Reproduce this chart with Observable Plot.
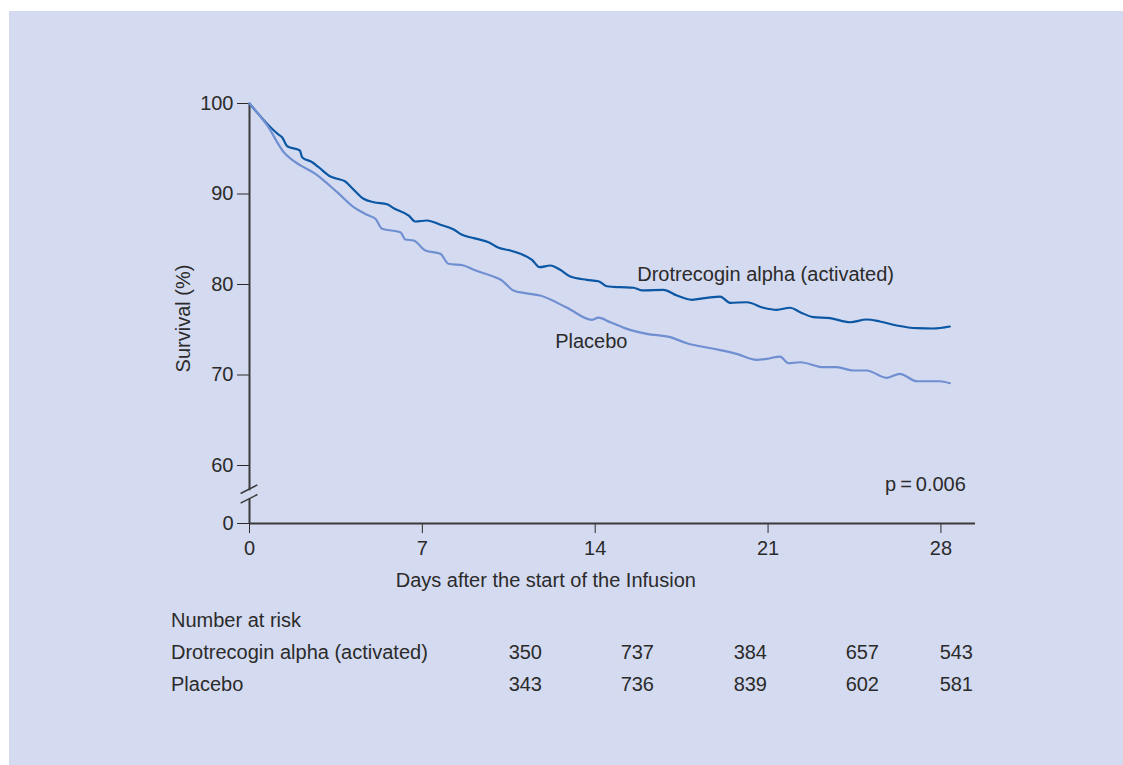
<!DOCTYPE html>
<html><head><meta charset="utf-8">
<script src="https://cdn.jsdelivr.net/npm/d3@7"></script>
<script src="https://cdn.jsdelivr.net/npm/@observablehq/plot@0.6"></script>
<style>
html,body{margin:0;padding:0;background:#fff;width:1123px;height:765px;overflow:hidden;font-family:"Liberation Sans",Arial,Helvetica,sans-serif;}
#panel{position:absolute;left:9px;top:11px;width:1114px;height:754px;background:#d4daf0;}
#chart{position:absolute;left:0;top:0;}
#risk{position:absolute;left:171px;top:604px;border-collapse:collapse;table-layout:fixed;font-size:20px;color:#2b2b2b;}
#risk td{padding:0;height:32px;line-height:32px;white-space:nowrap;}
#risk td.n{text-align:right;}
</style></head><body>
<div id="panel"></div>
<div id="chart"></div>
<table id="risk"></table>
<script>
// ---- data ----
const drotDays = [0,1.19,1.32,1.53,2.04,2.13,2.54,2.80,3.28,3.55,3.88,4.16,4.62,5.03,5.57,5.84,6.45,6.72,7.19,7.73,8.27,8.61,9.08,9.68,10.09,10.56,10.97,11.44,11.75,12.18,12.58,12.99,13.66,14.13,14.47,15.01,15.55,15.89,16.76,17.31,17.91,18.52,19.06,19.46,20.14,20.81,21.35,21.89,22.30,22.83,23.51,24.32,24.99,25.53,26.21,27.02,27.69,28.36];
const drotSurv = [100,96.54,96.28,95.28,94.81,94.07,93.51,92.96,91.93,91.68,91.38,90.64,89.47,89.09,88.87,88.43,87.62,86.96,87.07,86.60,86.08,85.49,85.12,84.67,84.05,83.76,83.39,82.73,81.91,82.10,81.62,80.88,80.52,80.36,79.81,79.70,79.64,79.34,79.41,78.78,78.31,78.53,78.67,77.98,78.04,77.43,77.20,77.43,76.94,76.39,76.28,75.83,76.13,75.91,75.47,75.17,75.14,75.36];
const placDays = [0,0.72,1.39,1.86,2.67,3.55,4.22,4.76,5.10,5.37,6.11,6.31,6.65,7.12,7.73,8.06,8.67,9.08,9.95,10.16,10.69,11.17,11.77,12.86,13.87,14.13,14.61,15.28,16.09,17.04,17.71,18.79,19.73,20.54,20.95,21.49,21.82,22.30,23.24,23.78,24.45,24.99,25.80,26.34,27.02,27.96,28.36];
const placSurv = [100,97.57,94.62,93.51,92.23,90.20,88.54,87.70,87.26,86.15,85.78,84.97,84.86,83.76,83.39,82.29,82.10,81.62,80.81,80.55,79.34,79.04,78.78,77.43,76.10,76.33,75.83,75.10,74.55,74.18,73.51,72.90,72.34,71.68,71.79,72.04,71.30,71.41,70.86,70.86,70.50,70.50,69.69,70.13,69.31,69.31,69.09];
const xTicks = [0,7,14,21,28];
const yTicks = [100,90,80,70,60,0];
const seriesNames = ["Drotrecogin alpha (activated)","Placebo"];
const seriesColors = ["#0b57a4","#6f8fd1"];
const riskDrot = [350,737,384,657,543];
const riskPlac = [343,736,839,602,581];
const seriesLabels = [
  {text:"Drotrecogin alpha (activated)", day:15.70, value:81.1},
  {text:"Placebo", day:12.38, value:73.7}
];
const pLabel = [{text:"p\u2009=\u20090.006", day:29.01, value:40.3}];
// axis break (in data units on the y-axis between 0 and 60)
const breakGap = [25, 34];
const breakSlashes = [{x1:-0.36,y1:31,x2:0.32,y2:40},{x1:-0.36,y1:21,x2:0.32,y2:30}];

const rows = [];
drotDays.forEach((d,i)=>rows.push({series:seriesNames[0], day:d, surv:drotSurv[i]}));
placDays.forEach((d,i)=>rows.push({series:seriesNames[1], day:d, surv:placSurv[i]}));

const ink = "#2b2b2b";
const chart = Plot.plot({
  width:1123, height:600,
  marginLeft:249, marginRight:148, marginTop:103, marginBottom:77,
  style:{background:"transparent", fontSize:"20px", fontFamily:'"Liberation Sans", Arial, Helvetica, sans-serif', color:ink, overflow:"visible"},
  x:{domain:[0,29.4], ticks:xTicks, tickSize:10, tickPadding:7, label:null},
  y:{type:"linear", domain:[0,60,100], range:[523,465,103], ticks:yTicks, tickSize:12, tickPadding:4, label:null},
  color:{domain:seriesNames, range:seriesColors},
  marks:[
    Plot.ruleY([0], {stroke:"#3a3a3a", strokeWidth:2}),
    Plot.ruleX([0], {y1:breakGap[1], y2:100, stroke:"#3a3a3a", strokeWidth:2}),
    Plot.ruleX([0], {y1:0, y2:breakGap[0], stroke:"#3a3a3a", strokeWidth:2}),
    Plot.link(breakSlashes, {x1:"x1", y1:"y1", x2:"x2", y2:"y2", stroke:"#3a3a3a", strokeWidth:1.5}),
    Plot.line(rows, {x:"day", y:"surv", z:"series", stroke:"series", strokeWidth:2.2, curve:"monotone-x"}),
    Plot.text(seriesLabels, {x:"day", y:"value", text:"text", textAnchor:"start", lineAnchor:"middle", fill:ink}),
    Plot.text(pLabel, {x:"day", y:"value", text:"text", textAnchor:"end", lineAnchor:"middle", fill:ink}),
    Plot.text(["Survival (%)"], {frameAnchor:"left", dx:-66, dy:5, rotate:-90, textAnchor:"middle", lineAnchor:"middle", fill:ink}),
    Plot.text(["Days after the start of the Infusion"], {x:()=>12, frameAnchor:"bottom", dy:57, textAnchor:"middle", lineAnchor:"middle", fill:ink})
  ]
});
document.getElementById("chart").appendChild(chart);

// number at risk table
const table = document.getElementById("risk");
const widths = [300,71,112,113,112,94];
const cg = document.createElement("colgroup");
widths.forEach(w=>{const c=document.createElement("col"); c.style.width=w+"px"; cg.appendChild(c);});
table.appendChild(cg);
const head = table.insertRow();
const hc = head.insertCell(); hc.colSpan = 6; hc.textContent = "Number at risk";
[[seriesNames[0], riskDrot],[seriesNames[1], riskPlac]].forEach(([name, vals])=>{
  const r = table.insertRow();
  r.insertCell().textContent = name;
  vals.forEach(v=>{const c=r.insertCell(); c.className="n"; c.textContent=v;});
});
</script>
</body></html>
